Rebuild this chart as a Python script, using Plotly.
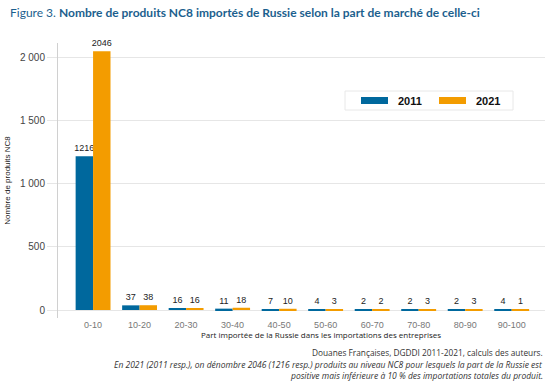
import plotly.graph_objects as go

categories = ["0-10", "10-20", "20-30", "30-40", "40-50", "50-60", "60-70", "70-80", "80-90", "90-100"]
values_2011 = [1216, 37, 16, 11, 7, 4, 2, 2, 2, 4]
values_2021 = [2046, 38, 16, 18, 10, 3, 2, 3, 3, 1]
y_ticks = [0, 500, 1000, 1500, 2000]
y_tick_labels = ["0", "500", "1 000", "1 500", "2 000"]

BLUE = "#00689d"
ORANGE = "#f39c00"
FONT = "Open Sans"

fig = go.Figure()
for name, vals, col in [("2011", values_2011, BLUE), ("2021", values_2021, ORANGE)]:
    fig.add_trace(go.Bar(
        x=categories, y=vals, name=name, marker=dict(color=col, line=dict(width=0)),
        text=[str(v) for v in vals], textposition="outside", cliponaxis=False,
        constraintext="none",
        textfont=dict(family="Arial", size=9, color="#222"),
        showlegend=False,
    ))

fig.update_layout(
    width=550, height=383,
    margin=dict(l=58, r=5, t=43, b=65, autoexpand=False),
    paper_bgcolor="white", plot_bgcolor="white",
    barmode="group", bargap=0.25, bargroupgap=0,
    font=dict(family=FONT, size=10, color="#333"),
)
fig.update_xaxes(
    range=[-0.754, 9.716], showgrid=False, showline=False, ticks="",
    tickfont=dict(family="Arial", size=9, color="#777"),
)
fig.update_yaxes(
    range=[-63, 2111], tickvals=y_ticks, ticktext=y_tick_labels,
    showgrid=True, gridcolor="#e6e6e6", gridwidth=1, zeroline=False,
    showline=True, linecolor="#d0d0d0", linewidth=1,
    ticks="outside", ticklen=10, tickcolor="#e6e6e6",
    tickfont=dict(family="Arial", size=10, color="#444"),
    title=dict(text="Nombre de produits NC8", font=dict(family="Arial", size=8, color="#222"), standoff=8),
)

def px_x(p):
    return (p - 58) / 487
def px_y(p):
    return (318 - p) / 275

# Title
fig.add_annotation(
    xref="paper", yref="paper", x=px_x(8), y=px_y(13), xanchor="left", yanchor="middle",
    text="Figure 3. <b>Nombre de produits NC8 importés de Russie selon la part de marché de celle-ci</b>",
    showarrow=False, font=dict(family="Lato", size=12, color="#1c5f8e"),
)

# X axis title
fig.add_annotation(
    xref="paper", yref="paper", x=px_x(321), y=px_y(334), xanchor="center", yanchor="middle",
    text="Part importée de la Russie dans les importations des entreprises",
    showarrow=False, font=dict(family=FONT, size=8, color="#222"),
)

# Custom legend (box, swatches, labels)
fig.add_shape(type="rect", xref="paper", yref="paper",
              x0=px_x(345), x1=px_x(513), y0=px_y(110), y1=px_y(91),
              line=dict(color="#e8e8e8", width=1), fillcolor="white")
for x0, col, lab in [(361, BLUE, "2011"), (439, ORANGE, "2021")]:
    fig.add_shape(type="rect", xref="paper", yref="paper",
                  x0=px_x(x0), x1=px_x(x0 + 27), y0=px_y(104), y1=px_y(97),
                  line=dict(width=0), fillcolor=col)
    fig.add_annotation(xref="paper", yref="paper", x=px_x(x0 + 35), y=px_y(100.5),
                       xanchor="left", yanchor="middle", text="<b>" + lab + "</b>", showarrow=False,
                       font=dict(family="Arial", size=11, color="#111"))

# Source and note
notes = [
    ("Douanes Françaises, DGDDI 2011-2021, calculs des auteurs.", 352, False),
    ("En 2021 (2011 resp.), on dénombre 2046 (1216 resp.) produits au niveau NC8 pour lesquels la part de la Russie est", 364, True),
    ("positive mais inférieure à 10 % des importations totales du produit.", 375, True),
]
for txt, ypix, ital in notes:
    fig.add_annotation(xref="paper", yref="paper", x=px_x(545), y=px_y(ypix),
                       xanchor="right", yanchor="middle", showarrow=False,
                       text=("<i>" + txt + "</i>") if ital else txt,
                       font=dict(family=FONT, size=8.3 if not ital else 8.5, color="#333"))

fig.write_html("out.html", config={"displayModeBar": False},
               post_script="document.body.style.margin='0';")
